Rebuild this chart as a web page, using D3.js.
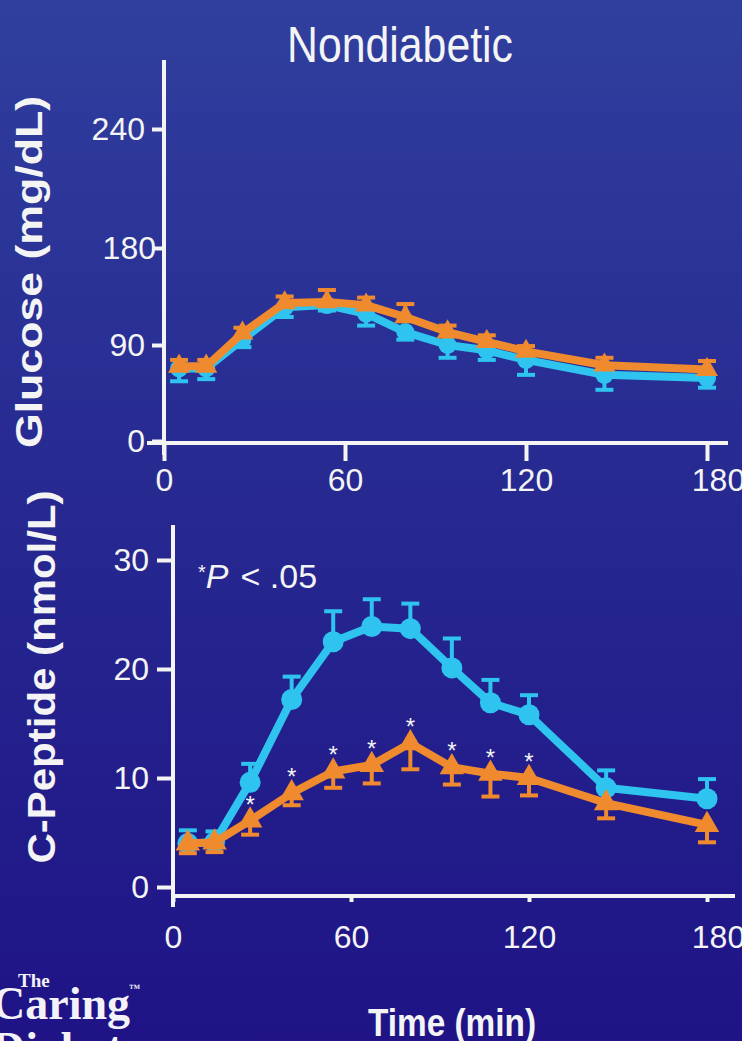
<!DOCTYPE html>
<html>
<head>
<meta charset="utf-8">
<script src="https://cdn.jsdelivr.net/npm/d3@7"></script>
<style>
  html, body { margin: 0; padding: 0; background: #221a8c; }
  svg { display: block; }
</style>
</head>
<body>
<div id="chart"></div>
<script>
// sample times (min)
var times = [5, 14, 26, 40, 54, 67, 80, 94, 107, 120, 146, 180];

// glucose (mg/dL)
var glucoseBlue    = [68, 68, 95, 125, 127, 119, 102, 90, 85, 76, 62, 59];
var glucoseBlueSE  = [12, 10, 7, 9, 5, 11, 7, 12, 9, 14, 14, 9];
var glucoseOrange   = [70, 70, 101, 129, 130, 127, 116, 102, 93, 84, 71, 67];
var glucoseOrangeSE = [6, 6, 5, 6, 11, 7, 12, 6, 6, 5, 7, 8];

// C-peptide (nmol/L)
var cpepBlue    = [4.0, 4.1, 9.6, 17.2, 22.5, 23.9, 23.7, 20.1, 16.9, 15.8, 9.1, 8.1];
var cpepBlueSE  = [1.2, 1.0, 1.7, 2.1, 2.8, 2.5, 2.3, 2.7, 2.1, 1.8, 1.6, 1.8];
var cpepOrange   = [4.0, 4.1, 6.1, 8.6, 10.6, 11.2, 13.2, 11.0, 10.4, 10.0, 7.7, 5.7];
var cpepOrangeSE = [0.9, 0.9, 1.3, 1.1, 1.5, 1.7, 2.4, 1.6, 2.1, 1.6, 1.4, 1.6];
var cpepSignif   = [0, 0, 1, 1, 1, 1, 1, 1, 1, 1, 0, 0];

var xTicks = [0, 60, 120, 180];
var glucoseTicks = [0, 90, 180, 240];
var cpepTicks = [0, 10, 20, 30];

var blue = "#2ec4ef", orange = "#f08a2e", white = "#f4f4f4";
var sans = "Liberation Sans, Arial, sans-serif", serif = "Liberation Serif, Times New Roman, serif";
var w = 742, h = 1041;

var svg = d3.select("#chart").append("svg")
    .attr("width", w)
    .attr("height", h)
    .attr("font-family", sans)
    .attr("fill", white);

var grad = svg.append("defs").append("linearGradient")
    .attr("id", "bg").attr("x1", 0).attr("y1", 0).attr("x2", 0).attr("y2", 1);
grad.append("stop").attr("offset", "0%").attr("stop-color", "#303f9e");
grad.append("stop").attr("offset", "45%").attr("stop-color", "#272a91");
grad.append("stop").attr("offset", "100%").attr("stop-color", "#1f1386");
svg.append("rect").attr("width", w).attr("height", h).attr("fill", "url(#bg)");

// title
svg.append("text")
    .attr("x", 287).attr("y", 62)
    .attr("font-size", 50)
    .attr("textLength", 226).attr("lengthAdjust", "spacingAndGlyphs")
    .text("Nondiabetic");

// scales
var xTop = d3.scaleLinear().domain([0, 180]).range([164, 707]);
// the printed axis is not evenly spaced, so a piecewise scale
var yTop = d3.scaleLinear().domain(glucoseTicks).range([441, 345, 248, 129]);
var xBot = d3.scaleLinear().domain([0, 180]).range([173, 707]);
var yBot = d3.scaleLinear().domain([0, 30]).range([887, 560]);

function styleAxis(g) {
    g.select(".domain").remove();
    g.selectAll(".tick line").attr("stroke", white).attr("stroke-width", 4);
    g.selectAll(".tick text")
        .attr("fill", white)
        .attr("font-size", 32)
        .attr("font-family", sans);
    // last label sits a bit right of its tick in the original
    g.selectAll(".tick text").filter(d => d == 180).attr("dx", 11);
}

function panel(o) {
    var g = svg.append("g");

    // axis lines
    g.append("line")
        .attr("x1", o.x(0)).attr("x2", o.x(0))
        .attr("y1", o.yTop).attr("y2", o.yBottom)
        .attr("stroke", white).attr("stroke-width", 4);
    g.append("line")
        .attr("x1", o.xStart).attr("x2", o.xEnd)
        .attr("y1", o.xAxisY).attr("y2", o.xAxisY)
        .attr("stroke", white).attr("stroke-width", 4);

    g.append("g")
        .attr("transform", "translate(" + o.x(0) + ",0)")
        .call(d3.axisLeft(o.y).tickValues(o.yTicks).tickSize(o.yTickLen).tickPadding(o.yPad))
        .call(styleAxis);

    g.append("g")
        .attr("transform", "translate(0," + o.xAxisY + ")")
        .call(d3.axisBottom(o.x).tickValues(xTicks).tickSize(o.xTickLen).tickPadding(o.xPad))
        .call(styleAxis);

    var line = d3.line().x((d, i) => o.x(times[i])).y(d => o.y(d));

    o.series.forEach(function(s) {
        // error bars
        var eb = g.append("g");
        s.values.forEach(function(v, i) {
            var x = o.x(times[i]);
            var y0 = o.y(v), y1 = o.y(v + s.dir * s.se[i]);
            eb.append("line").attr("x1", x).attr("x2", x).attr("y1", y0).attr("y2", y1)
                .attr("stroke", s.color).attr("stroke-width", 4);
            eb.append("line").attr("x1", x - 9).attr("x2", x + 9).attr("y1", y1).attr("y2", y1)
                .attr("stroke", s.color).attr("stroke-width", 4);
        });

        g.append("path")
            .datum(s.values)
            .attr("d", line)
            .attr("fill", "none")
            .attr("stroke", s.color)
            .attr("stroke-width", o.lineW)
            .attr("stroke-linejoin", "round");

        if (s.shape == "circle") {
            g.selectAll(null).data(s.values).enter().append("circle")
                .attr("cx", (d, i) => o.x(times[i]))
                .attr("cy", d => o.y(d))
                .attr("r", o.r)
                .attr("fill", s.color);
        } else {
            g.selectAll(null).data(s.values).enter().append("path")
                .attr("d", d3.symbol(d3.symbolTriangle).size(o.triSize))
                .attr("transform", (d, i) => "translate(" + o.x(times[i]) + "," + o.y(d) + ")")
                .attr("fill", s.color);
        }
    });
    return g;
}

panel({
    x: xTop, y: yTop, yTicks: glucoseTicks,
    yTop: 60, yBottom: 455, xStart: 147, xEnd: 728, xAxisY: 443,
    yTickLen: 12, yPad: 7, xTickLen: 18, xPad: 7,
    lineW: 8, r: 9, triSize: 210,
    series: [
        {values: glucoseBlue, se: glucoseBlueSE, dir: -1, color: blue, shape: "circle"},
        {values: glucoseOrange, se: glucoseOrangeSE, dir: 1, color: orange, shape: "triangle"}
    ]
});

var bot = panel({
    x: xBot, y: yBot, yTicks: cpepTicks,
    yTop: 525, yBottom: 907, xStart: 173, xEnd: 735, xAxisY: 896,
    yTickLen: 16, yPad: 8, xTickLen: 6, xPad: 23,
    lineW: 8, r: 10.5, triSize: 260,
    series: [
        {values: cpepBlue, se: cpepBlueSE, dir: 1, color: blue, shape: "circle"},
        {values: cpepOrange, se: cpepOrangeSE, dir: -1, color: orange, shape: "triangle"}
    ]
});

// significance marks
var starPts = cpepOrange.map((v, i) => ({t: times[i], v: v, s: cpepSignif[i]})).filter(d => d.s);
bot.selectAll(".star").data(starPts).enter()
    .append("text")
    .attr("class", "star")
    .attr("x", d => xBot(d.t))
    .attr("y", d => yBot(d.v) - 8)
    .attr("text-anchor", "middle")
    .attr("font-size", 24)
    .text("*");

// *P < .05
var pt = svg.append("text").attr("x", 198).attr("y", 588).attr("font-size", 34);
pt.append("tspan").attr("font-size", 20).attr("dy", -9).text("*");
pt.append("tspan").attr("font-style", "italic").attr("dy", 9).text("P");
pt.append("tspan").attr("dx", 12).text("< .05");

// axis titles
svg.append("text")
    .attr("transform", "translate(42,272) rotate(-90)")
    .attr("text-anchor", "middle")
    .attr("font-size", 36).attr("font-weight", "bold")
    .attr("textLength", 352).attr("lengthAdjust", "spacingAndGlyphs")
    .text("Glucose (mg/dL)");

svg.append("text")
    .attr("transform", "translate(55,677) rotate(-90)")
    .attr("text-anchor", "middle")
    .attr("font-size", 38).attr("font-weight", "bold")
    .attr("textLength", 373).attr("lengthAdjust", "spacingAndGlyphs")
    .text("C-Peptide (nmol/L)");

svg.append("text")
    .attr("x", 452).attr("y", 1036)
    .attr("text-anchor", "middle")
    .attr("font-size", 38).attr("font-weight", "bold")
    .attr("textLength", 168).attr("lengthAdjust", "spacingAndGlyphs")
    .text("Time (min)");

// logo
var logo = svg.append("g").attr("font-family", serif).attr("font-weight", "bold").attr("fill", "#f2f2f8");
logo.append("text").attr("x", 18).attr("y", 987).attr("font-size", 19).text("The");
logo.append("text").attr("x", -8).attr("y", 1019).attr("font-size", 46).text("Caring");
logo.append("text").attr("x", 129).attr("y", 992).attr("font-size", 11).text("™");
logo.append("text").attr("x", -8).attr("y", 1064).attr("font-size", 46).text("Diabetes");
</script>
</body>
</html>
